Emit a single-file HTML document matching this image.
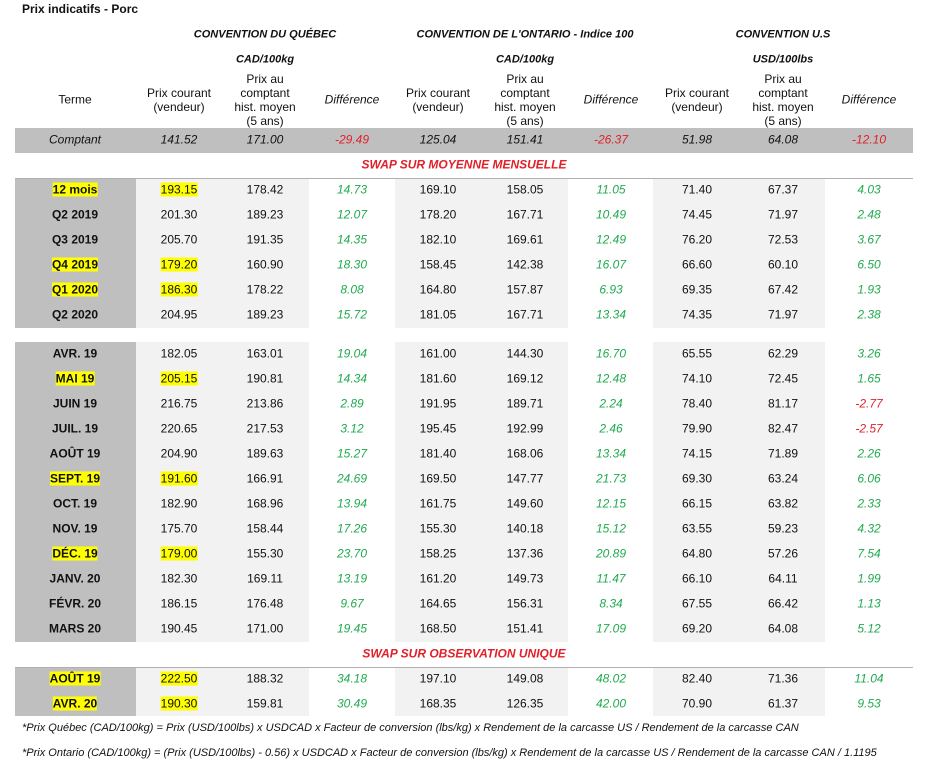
<!DOCTYPE html>
<html><head><meta charset="utf-8">
<style>
body{margin:0;background:#fff;width:926px;height:771px;overflow:hidden;position:relative;font-family:"Liberation Sans",Arial,sans-serif;font-size:12px;color:#111}
.a{position:absolute}
.c{position:absolute;transform:translate(-50%,-50%);white-space:nowrap;line-height:13px;text-align:center}
.hd{line-height:14px}
.sm{font-size:11px}
.hl{background:#ffff00}
.b{font-weight:bold}
.i{font-style:italic}
.g{color:#1faa4f}
.r{color:#e2202a}
</style></head><body>
<div class="a b" style="left:22px;top:2px;font-size:12px">Prix indicatifs - Porc</div>
<div id="root"></div>
<script>
const termes1=["12 mois","Q2 2019","Q3 2019","Q4 2019","Q1 2020","Q2 2020"];
const termes2=["AVR. 19","MAI 19","JUIN 19","JUIL. 19","AOÛT 19","SEPT. 19","OCT. 19","NOV. 19","DÉC. 19","JANV. 20","FÉVR. 20","MARS 20"];
const termes3=["AOÛT 19","AVR. 20"];
const qcPrix=[193.15,201.30,205.70,179.20,186.30,204.95,182.05,205.15,216.75,220.65,204.90,191.60,182.90,175.70,179.00,182.30,186.15,190.45,222.50,190.30];
const qcHist=[178.42,189.23,191.35,160.90,178.22,189.23,163.01,190.81,213.86,217.53,189.63,166.91,168.96,158.44,155.30,169.11,176.48,171.00,188.32,159.81];
const qcDiff=[14.73,12.07,14.35,18.30,8.08,15.72,19.04,14.34,2.89,3.12,15.27,24.69,13.94,17.26,23.70,13.19,9.67,19.45,34.18,30.49];
const onPrix=[169.10,178.20,182.10,158.45,164.80,181.05,161.00,181.60,191.95,195.45,181.40,169.50,161.75,155.30,158.25,161.20,164.65,168.50,197.10,168.35];
const onHist=[158.05,167.71,169.61,142.38,157.87,167.71,144.30,169.12,189.71,192.99,168.06,147.77,149.60,140.18,137.36,149.73,156.31,151.41,149.08,126.35];
const onDiff=[11.05,10.49,12.49,16.07,6.93,13.34,16.70,12.48,2.24,2.46,13.34,21.73,12.15,15.12,20.89,11.47,8.34,17.09,48.02,42.00];
const usPrix=[71.40,74.45,76.20,66.60,69.35,74.35,65.55,74.10,78.40,79.90,74.15,69.30,66.15,63.55,64.80,66.10,67.55,69.20,82.40,70.90];
const usHist=[67.37,71.97,72.53,60.10,67.42,71.97,62.29,72.45,81.17,82.47,71.89,63.24,63.82,59.23,57.26,64.11,66.42,64.08,71.36,61.37];
const usDiff=[4.03,2.48,3.67,6.50,1.93,2.38,3.26,1.65,-2.77,-2.57,2.26,6.06,2.33,4.32,7.54,1.99,1.13,5.12,11.04,9.53];
const comptant=[141.52,171.00,-29.49,125.04,151.41,-26.37,51.98,64.08,-12.10];

const root=document.getElementById('root');
const cx=[75,179,265,352,438,525,611,697,783,869];
function box(x,y,w,h,bg,name){const d=document.createElement('div');d.className='a';d.style.cssText=`left:${x}px;top:${y}px;width:${w}px;height:${h}px;background:${bg}`;


root.appendChild(d);return d;}
function txt(x,y,t,cls,name,hl){const d=document.createElement('div');d.className='c '+(cls||'');d.style.left=x+'px';d.style.top=y+'px';
if(hl){const s=document.createElement('span');s.className='hl';s.textContent=t;d.appendChild(s);}else d.textContent=t;


root.appendChild(d);return d;}
// headers
txt(265,35,"CONVENTION DU QUÉBEC","b i sm",'quebec-header');
txt(525,35,"CONVENTION DE L'ONTARIO - Indice 100","b i sm",'ontario-header');
txt(783,35,"CONVENTION U.S","b i sm",'us-header');
txt(265,60,"CAD/100kg","b i sm",'quebec-unit');
txt(525,60,"CAD/100kg","b i sm",'ontario-unit');
txt(783,60,"USD/100lbs","b i sm",'us-unit');
txt(75,100,"Terme","",'terme-header');
for(let k=0;k<3;k++){
 const d1=txt(cx[1+3*k],100,"","hd",'prix-courant-header');d1.innerHTML="Prix courant<br>(vendeur)";
 const d2=txt(cx[2+3*k],100,"","hd",'hist-header');d2.innerHTML="Prix au<br>comptant<br>hist. moyen<br>(5 ans)";
 txt(cx[3+3*k],100,"Différence","i",'difference-header');
}
// comptant
box(15,128,898,25,'#bfbfbf','comptant-row');
txt(75,140,"Comptant","i",'comptant-label');
comptant.forEach((v,j)=>{txt(cx[j+1],140,v.toFixed(2),'i'+(j%3==2?' r':''),'comptant-value');});
function section(y,h){
 box(15,y,121,h,'#bfbfbf','terme-column-bg');
 box(136,y,173,h,'#f2f2f2','quebec-bg');
 box(395,y,173,h,'#f2f2f2','ontario-bg');
 box(653,y,172,h,'#f2f2f2','us-bg');
}
txt(464,165,"SWAP SUR MOYENNE MENSUELLE","b i r",'swap-mensuelle-title');
box(15,178,898,1,'#b0b0b0','divider');
section(179,149);
section(342,300);
txt(464,654,"SWAP SUR OBSERVATION UNIQUE","b i r",'swap-unique-title');
box(15,667,898,1,'#b0b0b0','divider');
section(668,48);
const allT=termes1.concat(termes2,termes3);
const ys=[];
termes1.forEach((t,i)=>ys.push(190+25*i));
termes2.forEach((t,i)=>ys.push(354+25*i));
termes3.forEach((t,i)=>ys.push(679+25*i));
const hlSet=["12 mois","Q4 2019","Q1 2020","MAI 19","SEPT. 19","DÉC. 19"];
allT.forEach((t,i)=>{
 const y=ys[i];
 const h = i>=18 ? true : hlSet.includes(t);
 txt(cx[0],y,t,'b','terme-label',h);
 txt(cx[1],y,qcPrix[i].toFixed(2),'','quebec-prix',h);
 txt(cx[2],y,qcHist[i].toFixed(2),'','quebec-hist');
 txt(cx[3],y,qcDiff[i].toFixed(2),'i '+(qcDiff[i]<0?'r':'g'),'quebec-diff');
 txt(cx[4],y,onPrix[i].toFixed(2),'','ontario-prix');
 txt(cx[5],y,onHist[i].toFixed(2),'','ontario-hist');
 txt(cx[6],y,onDiff[i].toFixed(2),'i '+(onDiff[i]<0?'r':'g'),'ontario-diff');
 txt(cx[7],y,usPrix[i].toFixed(2),'','us-prix');
 txt(cx[8],y,usHist[i].toFixed(2),'','us-hist');
 txt(cx[9],y,usDiff[i].toFixed(2),'i '+(usDiff[i]<0?'r':'g'),'us-diff');
});
</script>
<div class="a i" style="left:22px;top:722px;font-size:11px">*Prix Québec (CAD/100kg) = Prix (USD/100lbs) x USDCAD x Facteur de conversion (lbs/kg) x Rendement de la carcasse US / Rendement de la carcasse CAN</div>
<div class="a i" style="left:22px;top:747px;font-size:11px">*Prix Ontario (CAD/100kg) = (Prix (USD/100lbs) - 0.56) x USDCAD x Facteur de conversion (lbs/kg) x Rendement de la carcasse US / Rendement de la carcasse CAN / 1.1195</div>
</body></html>
